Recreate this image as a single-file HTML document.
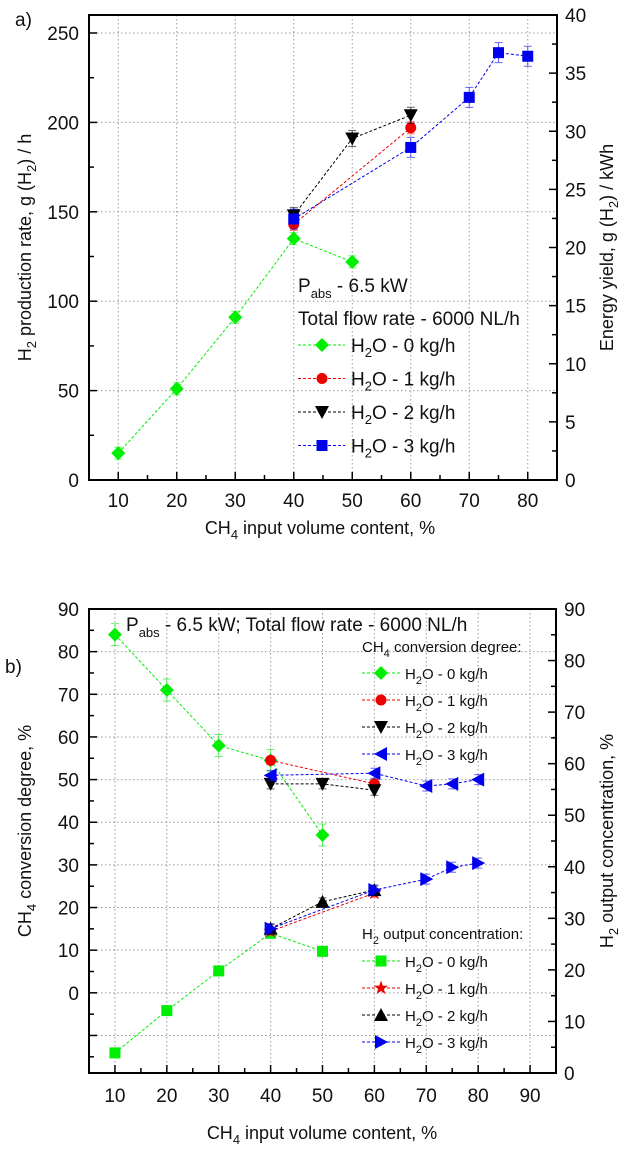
<!DOCTYPE html>
<html><head><meta charset="utf-8"><style>
html,body{margin:0;padding:0;background:#fff}
svg{display:block;font-family:"Liberation Sans",sans-serif}
</style></head><body>
<svg id="c" width="629" height="1155" viewBox="0 0 629 1155" xmlns="http://www.w3.org/2000/svg"></svg>
<script>
// ---- Panel a data ----
const aG_x=[10,20,30,40,50]; const aG_y=[15,51,91,135,122];
const aR_x=[40,60]; const aR_y=[143,197];
const aK_x=[40,50,60]; const aK_y=[148,191,204];
const aB_x=[40,60,70,75,80]; const aB_y=[146,186,214,239,237];
const aXTicks=[10,20,30,40,50,60,70,80];
const aYTicks=[0,50,100,150,200,250];
const aY2Ticks=[0,5,10,15,20,25,30,35,40];
// ---- Panel b data ----
const bG_x=[10,20,30,40,50]; const bG_y=[84,71,58,54.5,37];
const bR_x=[40,60]; const bR_y=[54.5,49];
const bK_x=[40,50,60]; const bK_y=[49,49,47.5];
const bB_x=[40,60,70,75,80]; const bB_y=[51,51.5,48.5,49,50];
const hG_x=[10,20,30,40,50]; const hG_y=[3.9,12.1,19.8,27.1,23.6];
const hR_x=[40,60]; const hR_y=[27.5,34.9];
const hK_x=[40,50,60]; const hK_y=[28,33.2,35.5];
const hB_x=[40,60,70,75,80]; const hB_y=[28,35.5,37.6,39.9,40.7];
const bXTicks=[10,20,30,40,50,60,70,80,90];
const bYTicks=[0,10,20,30,40,50,60,70,80,90];
const bY2Ticks=[0,10,20,30,40,50,60,70,80,90];

const NS="http://www.w3.org/2000/svg";
const svg=document.getElementById('c');
function el(t,a,p){const e=document.createElementNS(NS,t);for(const k in a)e.setAttribute(k,a[k]);(p||svg).appendChild(e);return e;}
const GREEN='#00ee00',RED='#ee0000',BLACK='#000',BLUE='#0000ee';

function marker(g,type,x,y,c){
  let e;
  if(type==='diamond')e=el('polygon',{points:`${x},${y-7} ${x+7},${y} ${x},${y+7} ${x-7},${y}`,fill:c},g);
  else if(type==='circle')e=el('circle',{cx:x,cy:y,r:5.5,fill:c},g);
  else if(type==='square')e=el('rect',{x:x-5.5,y:y-5.5,width:11,height:11,fill:c},g);
  else if(type==='down')e=el('polygon',{points:`${x-7},${y-6} ${x+7},${y-6} ${x},${y+7}`,fill:c},g);
  else if(type==='up')e=el('polygon',{points:`${x-7},${y+6} ${x+7},${y+6} ${x},${y-7}`,fill:c},g);
  else if(type==='left')e=el('polygon',{points:`${x+6},${y-7} ${x+6},${y+7} ${x-7},${y}`,fill:c},g);
  else if(type==='right')e=el('polygon',{points:`${x-6},${y-7} ${x-6},${y+7} ${x+7},${y}`,fill:c},g);
  else if(type==='star'){let p=[];for(let i=0;i<10;i++){const r=i%2?3:7.5,a=-Math.PI/2+i*Math.PI/5;p.push((x+r*Math.cos(a)).toFixed(1)+','+(y+r*Math.sin(a)).toFixed(1));}e=el('polygon',{points:p.join(' '),fill:c},g);}
  
  
}
function series(name,xs,ys,X,Y,type,c,err){
  const g=el('g',{});
  
  
  el('polyline',{points:xs.map((v,i)=>X(v)+','+Y(ys[i])).join(' '),fill:'none',stroke:c,'stroke-width':1,'stroke-dasharray':'3,2'},g);
  xs.forEach((v,i)=>{const x=X(v),y=Y(ys[i]);
    el('path',{d:`M${x},${y-err}V${y+err}M${x-4},${y-err}H${x+4}M${x-4},${y+err}H${x+4}`,stroke:c,'stroke-width':1,opacity:0.6},g);
    marker(g,type,x,y,c);});
}
function txt(s,x,y,size,attrs,name){const t=el('text',Object.assign({x:x,y:y,'font-size':size,fill:'#111'},attrs||{}));t.innerHTML=s;return t;}

function frame(L,R,T,B,X,Y,Y2,xt,yt,y2t,xmin,xmax,xminorStep,yMinor,y2Minor,name){
  const g=el('g',{});
  
  
  xt.forEach(v=>el('line',{x1:X(v),x2:X(v),y1:T,y2:B,stroke:'#999','stroke-dasharray':'1.5,2.5'},g));
  yt.forEach(v=>{if(Y(v)>T+1&&Y(v)<B-1)el('line',{x1:L,x2:R,y1:Y(v),y2:Y(v),stroke:'#999','stroke-dasharray':'1.5,2.5'},g);});
  for(let v=xmin;v<=xmax;v+=xminorStep){const x=X(v);if(x>L+1&&x<R-1)el('line',{x1:x,x2:x,y1:B,y2:B-(v%10===0?8:5),stroke:'#000','stroke-width':1.5},g);}
  yMinor.forEach(v=>el('line',{x1:L,x2:L+(yt.includes(v)?8:5),y1:Y(v),y2:Y(v),stroke:'#000','stroke-width':1.5},g));
  y2Minor.forEach(v=>el('line',{x1:R,x2:R-(y2t.includes(v)?8:5),y1:Y2(v),y2:Y2(v),stroke:'#000','stroke-width':1.5},g));
  el('rect',{x:L,y:T,width:R-L,height:B-T,fill:'none',stroke:'#000','stroke-width':2},g);
}

// ---------- Panel a ----------
(function(){
  const L=89,R=557,T=15,B=480;
  const X=v=>L+(v-5)*(R-L)/80;
  const Y=v=>B-v*(B-33)/250;
  const Y2=v=>B-v*(B-T)/40;
  const ym=[];for(let v=0;v<=250;v+=25)ym.push(v);
  const y2m=[];for(let v=0;v<=40;v+=2.5)y2m.push(v);
  frame(L,R,T,B,X,Y,Y2,aXTicks,aYTicks,aY2Ticks,5,85,5,ym,y2m,'panel-a');
  aXTicks.forEach(v=>txt(v,X(v),507,19,{'text-anchor':'middle'},'x-tick-label'));
  aYTicks.forEach(v=>txt(v,L-10,Y(v)+7,19,{'text-anchor':'end'},'y-tick-label'));
  aY2Ticks.forEach(v=>txt(v,R+8,Y2(v)+7,19,{},'y2-tick-label'));
  txt('a)',15,26,19,{},'panel-a-label');
  txt('CH<tspan font-size="13" dy="5">4</tspan><tspan dy="-5"> input volume content, %</tspan>',320,534,18,{'text-anchor':'middle'},'x-axis-title');
  txt('H<tspan font-size="13" dy="5">2</tspan><tspan dy="-5"> production rate, g (H</tspan><tspan font-size="13" dy="5">2</tspan><tspan dy="-5">) / h</tspan>',0,0,18,{'text-anchor':'middle',transform:`translate(31,${(T+B)/2}) rotate(-90)`},'y-axis-title');
  txt('Energy yield, g (H<tspan font-size="13" dy="5">2</tspan><tspan dy="-5">) / kWh</tspan>',0,0,18,{'text-anchor':'middle',transform:`translate(613,${(T+B)/2}) rotate(-90)`},'y2-axis-title');
  series('series-h2o-0',aG_x,aG_y,X,Y,'diamond',GREEN,6);
  series('series-h2o-1',aR_x,aR_y,X,Y,'circle',RED,6);
  series('series-h2o-2',aK_x,aK_y,X,Y,'down',BLACK,8);
  series('series-h2o-3',aB_x,aB_y,X,Y,'square',BLUE,10);
  txt('P<tspan font-size="13" dy="6">abs</tspan><tspan dy="-6"> - 6.5 kW</tspan>',298,292,19,{},'legend-title-power');
  txt('Total flow rate - 6000 NL/h',298,325,19,{},'legend-title-flow');
  const ents=[['diamond',GREEN,'0'],['circle',RED,'1'],['down',BLACK,'2'],['square',BLUE,'3']];
  ents.forEach((e,i)=>{const y=345+i*33.5;const g=el('g',{});
    
    
    el('line',{x1:298,x2:345,y1:y,y2:y,stroke:e[1],'stroke-dasharray':'3,2'},g);
    marker(g,e[0],322,y,e[1]);
    txt(`H<tspan font-size="13" dy="5">2</tspan><tspan dy="-5">O - ${e[2]} kg/h</tspan>`,351,y+7,19,{},'legend-label');});
})();

// ---------- Panel b ----------
(function(){
  const L=89,R=556,T=609,B=1073;
  const X=v=>L+(v-5)*(R-L)/90;
  const Y=v=>B-(v+18.8)*(B-T)/108.8;
  const Y2=v=>B-v*(B-T)/90;
  const ym=[];for(let v=-15;v<=90;v+=5)ym.push(v);
  const y2m=[];for(let v=0;v<=90;v+=5)y2m.push(v);
  frame(L,R,T,B,X,Y,Y2,bXTicks,bYTicks.concat([-10]),bY2Ticks,5,95,5,ym,y2m,'panel-b');
  bXTicks.forEach(v=>txt(v,X(v),1102,19,{'text-anchor':'middle'},'x-tick-label'));
  bYTicks.forEach(v=>txt(v,L-10,Y(v)+7,19,{'text-anchor':'end'},'y-tick-label'));
  bY2Ticks.forEach(v=>txt(v,R+8,Y2(v)+7,19,{},'y2-tick-label'));
  txt('b)',5,673,19,{},'panel-b-label');
  txt('CH<tspan font-size="13" dy="5">4</tspan><tspan dy="-5"> input volume content,  %</tspan>',322,1139,18,{'text-anchor':'middle'},'x-axis-title');
  txt('CH<tspan font-size="13" dy="5">4</tspan><tspan dy="-5"> conversion degree,  %</tspan>',0,0,18,{'text-anchor':'middle',transform:`translate(31,${(T+B)/2-10}) rotate(-90)`},'y-axis-title');
  txt('H<tspan font-size="13" dy="5">2</tspan><tspan dy="-5"> output concentration,  %</tspan>',0,0,18,{'text-anchor':'middle',transform:`translate(613,${(T+B)/2}) rotate(-90)`},'y2-axis-title');
  series('conv-h2o-0',bG_x,bG_y,X,Y,'diamond',GREEN,11);
  series('conv-h2o-1',bR_x,bR_y,X,Y,'circle',RED,4);
  series('conv-h2o-2',bK_x,bK_y,X,Y,'down',BLACK,5);
  series('conv-h2o-3',bB_x,bB_y,X,Y,'left',BLUE,5);
  series('h2-h2o-0',hG_x,hG_y,X,Y2,'square',GREEN,3);
  series('h2-h2o-1',hR_x,hR_y,X,Y2,'star',RED,4);
  series('h2-h2o-2',hK_x,hK_y,X,Y2,'up',BLACK,4);
  series('h2-h2o-3',hB_x,hB_y,X,Y2,'right',BLUE,5);
  txt('P<tspan font-size="13" dy="6">abs</tspan><tspan dy="-6"> - 6.5 kW; Total flow rate - 6000 NL/h</tspan>',126,631,19,{},'legend-title');
  txt('CH<tspan font-size="11" dy="5">4</tspan><tspan dy="-5"> conversion degree:</tspan>',362,652,15,{},'legend-group-conversion');
  txt('H<tspan font-size="11" dy="5">2</tspan><tspan dy="-5"> output concentration:</tspan>',362,939,15,{},'legend-group-h2');
  const e1=[['diamond',GREEN,'0'],['circle',RED,'1'],['down',BLACK,'2'],['left',BLUE,'3']];
  const e2=[['square',GREEN,'0'],['star',RED,'1'],['up',BLACK,'2'],['right',BLUE,'3']];
  [[e1,673],[e2,961]].forEach(([ents,y0])=>ents.forEach((e,i)=>{const y=y0+i*27;const g=el('g',{});
    
    
    el('line',{x1:362,x2:400,y1:y,y2:y,stroke:e[1],'stroke-dasharray':'3,2'},g);
    marker(g,e[0],381,y,e[1]);
    txt(`H<tspan font-size="11" dy="5">2</tspan><tspan dy="-5">O - ${e[2]} kg/h</tspan>`,405,y+6,15,{},'legend-label');}));
})();
</script>
</body></html>
